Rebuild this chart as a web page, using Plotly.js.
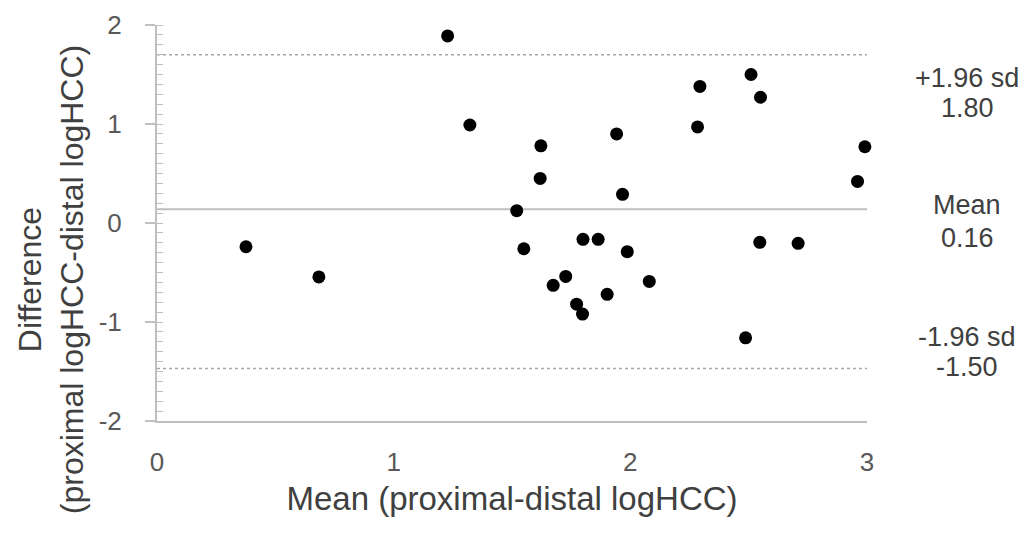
<!DOCTYPE html>
<html>
<head>
<meta charset="utf-8">
<script src="https://cdn.plot.ly/plotly-3.0.1.min.js"></script>
<style>html,body{margin:0;padding:0;background:#fff;}#chart{width:1029px;height:533px;}</style>
</head>
<body>
<div id="chart"></div>
<script>
// Bland-Altman data: mean (x) and difference (y)
const meanVals = [0.376, 0.684, 1.228, 1.322, 1.520, 1.550, 1.619, 1.622, 1.674, 1.727,
                  1.773, 1.798, 1.800, 1.864, 1.902, 1.942, 1.967, 1.987, 2.080, 2.284,
                  2.294, 2.487, 2.510, 2.547, 2.550, 2.709, 2.960, 2.991];
const diffVals = [-0.24, -0.545, 1.89, 0.99, 0.124, -0.26, 0.45, 0.78, -0.63, -0.54,
                  -0.82, -0.92, -0.165, -0.165, -0.72, 0.90, 0.29, -0.29, -0.59, 0.97,
                  1.38, -1.16, 1.50, -0.195, 1.27, -0.205, 0.42, 0.77];

// Reference lines (as drawn): upper limit, mean, lower limit
const lineNames = ["+1.96 sd", "Mean", "-1.96 sd"];
const lineValues = [1.70, 0.14, -1.47];
const lineLabels = ["1.80", "0.16", "-1.50"];
const lineXSpan = [0, 3];

// Axis ticks
const yTickVals = [-2, -1, 0, 1, 2];
const yTickText = ["-2", "-1", "0", "1", "2"];
const xTickVals = [0, 1, 2, 3];
const xTickText = ["0", "1", "2", "3"];

const FONT = "Liberation Sans, Arial, sans-serif";

const traces = [];
const lineStyles = [
  {color: "#a6a6a6", width: 1.5, dash: "dot"},
  {color: "#bfbfbf", width: 2, dash: "solid"},
  {color: "#a6a6a6", width: 1.5, dash: "dot"}
];
lineValues.forEach((v, i) => {
  traces.push({
    type: "scatter", mode: "lines",
    x: lineXSpan, y: [v, v],
    line: lineStyles[i],
    hoverinfo: "skip", showlegend: false, cliponaxis: false
  });
});
traces.push({
  type: "scatter", mode: "markers",
  x: meanVals, y: diffVals,
  marker: {color: "#000000", size: 13, line: {width: 0}},
  showlegend: false, cliponaxis: false
});

// Right-side labels: name above value (paper coordinates)
const labelPaperY = [[0.866, 0.790], [0.545, 0.462], [0.212, 0.136]];
const annotations = [];
lineNames.forEach((n, i) => {
  annotations.push({xref: "paper", yref: "paper", x: 1.141, y: labelPaperY[i][0], text: n, showarrow: false,
    xanchor: "center", yanchor: "middle", font: {family: FONT, size: 27, color: "#404040"}});
  annotations.push({xref: "paper", yref: "paper", x: 1.141, y: labelPaperY[i][1], text: lineLabels[i], showarrow: false,
    xanchor: "center", yanchor: "middle", font: {family: FONT, size: 27, color: "#404040"}});
});
// Y axis title (two lines, rotated)
annotations.push({
  xref: "paper", yref: "paper", x: -0.149, y: 0.356,
  text: "Difference<br>(proximal logHCC-distal logHCC)",
  textangle: -90, showarrow: false, xanchor: "center", yanchor: "middle",
  font: {family: FONT, size: 32, color: "#404040"}
});

const layout = {
  width: 1029, height: 533,
  margin: {l: 157, r: 162, t: 25, b: 112},
  paper_bgcolor: "#ffffff", plot_bgcolor: "#ffffff",
  font: {family: FONT},
  showlegend: false,
  xaxis: {
    range: [0, 3], showgrid: false, zeroline: false,
    showline: true, linecolor: "#bfbfbf", linewidth: 2,
    tickmode: "array", tickvals: xTickVals, ticktext: xTickText,
    ticks: "", ticklabelstandoff: 17,
    tickfont: {family: FONT, size: 26, color: "#595959"},
    title: {text: "Mean (proximal-distal logHCC)", font: {family: FONT, size: 33, color: "#404040"}, standoff: 11}
  },
  yaxis: {
    range: [-2, 2], showgrid: false, zeroline: false,
    showline: true, linecolor: "#bfbfbf", linewidth: 2,
    tickmode: "array", tickvals: yTickVals, ticktext: yTickText,
    ticks: "outside", ticklen: 10, tickwidth: 1.5, tickcolor: "#bfbfbf",
    ticklabelstandoff: 18,
    tickfont: {family: FONT, size: 26, color: "#595959"},
    minor: {ticks: "inside", dtick: 0.1, ticklen: 6, tickwidth: 1, tickcolor: "#bfbfbf", showgrid: false}
  },
  annotations: annotations
};

Plotly.newPlot("chart", traces, layout, {displayModeBar: false, staticPlot: true});
</script>
</body>
</html>
